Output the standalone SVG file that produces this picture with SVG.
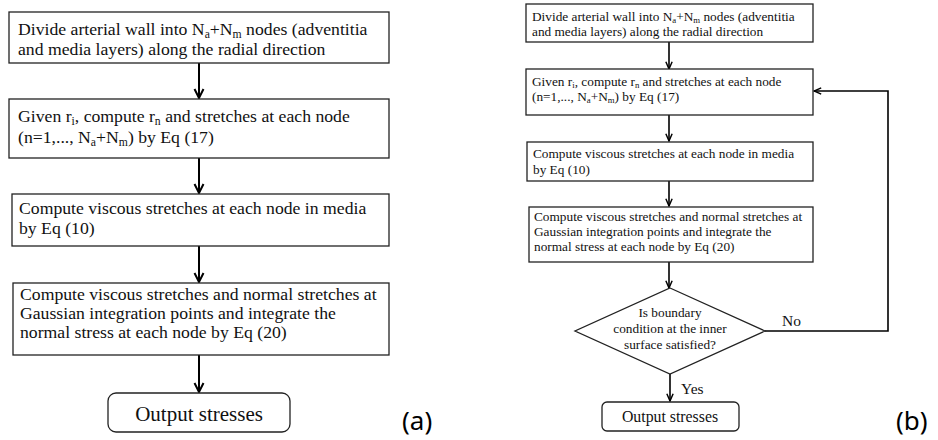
<svg xmlns="http://www.w3.org/2000/svg" width="938" height="440" viewBox="0 0 938 440">
  <style>
    .box { fill: #fff; stroke: #222; stroke-width: 1.3; }
    .wire { fill: none; stroke: #000; stroke-width: 2; }
    .wire-b { fill: none; stroke: #000; stroke-width: 1.6; }
    .ta { font-size: 17.7px; fill: #111; }
    .ta-big { font-size: 21px; fill: #111; }
    .tb { font-size: 13.3px; fill: #111; }
    .tlab { font-size: 15.5px; fill: #111; }
    .sub { font-size: 0.66em; }
    .panel { font-size: 26px; fill: #000; }
  </style>
  <defs>
    <marker id="head" viewBox="0 0 12 12" refX="10" refY="6" markerWidth="12" markerHeight="12" markerUnits="userSpaceOnUse" orient="auto">
      <path d="M1,1.5 L10,6 L1,10.5" fill="none" stroke="#000" stroke-width="2"/>
    </marker>
    <marker id="head-b" viewBox="0 0 10 10" refX="9" refY="5" markerWidth="9" markerHeight="9" markerUnits="userSpaceOnUse" orient="auto">
      <path d="M1,1.5 L9,5 L1,8.5" fill="none" stroke="#000" stroke-width="1.6"/>
    </marker>
  </defs>

  <!-- Panel (a): straight sequence -->
  <g id="connectors-a">
    <line class="wire" x1="199" y1="63" x2="199" y2="98" marker-end="url(#head)"/>
    <line class="wire" x1="199" y1="158" x2="199" y2="193" marker-end="url(#head)"/>
    <line class="wire" x1="199" y1="246" x2="199" y2="282" marker-end="url(#head)"/>
    <line class="wire" x1="199" y1="355" x2="199" y2="392" marker-end="url(#head)"/>
  </g>

  <g font-family="Liberation Serif, Times New Roman, DejaVu Serif, serif">
    <g id="a-divide">
      <rect class="box" x="9" y="12" width="380" height="51"/>
      <text class="ta" x="18" y="35">Divide arterial wall into N<tspan class="sub" dy="2.5">a</tspan><tspan dy="-2.5">+N</tspan><tspan class="sub" dy="2.5">m</tspan><tspan dy="-2.5"> nodes (adventitia</tspan></text>
      <text class="ta" x="18" y="55">and media layers) along the radial direction</text>
    </g>

    <g id="a-given">
      <rect class="box" x="9" y="99" width="380" height="59"/>
      <text class="ta" x="18" y="122">Given r<tspan class="sub" dy="2.5">i</tspan><tspan dy="-2.5">, compute r</tspan><tspan class="sub" dy="2.5">n</tspan><tspan dy="-2.5"> and stretches at each node</tspan></text>
      <text class="ta" x="18" y="143">(n=1,..., N<tspan class="sub" dy="2.5">a</tspan><tspan dy="-2.5">+N</tspan><tspan class="sub" dy="2.5">m</tspan><tspan dy="-2.5">) by Eq (17)</tspan></text>
    </g>

    <g id="a-viscous">
      <rect class="box" x="12" y="194" width="377" height="52"/>
      <text class="ta" x="19" y="214">Compute viscous stretches at each node in media</text>
      <text class="ta" x="19" y="234">by Eq (10)</text>
    </g>

    <g id="a-integrate">
      <rect class="box" x="13" y="283" width="376" height="72"/>
      <text class="ta" x="20" y="300">Compute viscous stretches and normal stretches at</text>
      <text class="ta" x="20" y="319">Gaussian integration points and integrate the</text>
      <text class="ta" x="20" y="338">normal stress at each node by Eq (20)</text>
    </g>

    <g id="a-output">
      <rect class="box" x="108" y="393" width="182" height="39" rx="8" ry="8"/>
      <text class="ta-big" x="199" y="421" text-anchor="middle">Output stresses</text>
    </g>

    <!-- Panel (b): iterative loop on the inner boundary condition -->
    <g id="connectors-b">
      <line class="wire-b" x1="669" y1="42" x2="669" y2="69" marker-end="url(#head-b)"/>
      <line class="wire-b" x1="669" y1="115" x2="669" y2="141" marker-end="url(#head-b)"/>
      <line class="wire-b" x1="669" y1="181" x2="669" y2="206" marker-end="url(#head-b)"/>
      <line class="wire-b" x1="669" y1="262" x2="669" y2="288" marker-end="url(#head-b)"/>
      <line class="wire-b" x1="670" y1="374" x2="670" y2="401" marker-end="url(#head-b)"/>
      <polyline class="wire-b" points="765,331 888,331 888,91 814,91" marker-end="url(#head-b)"/>
      <text class="tlab" x="681" y="394">Yes</text>
      <text class="tlab" x="782" y="326">No</text>
    </g>

    <g id="b-divide">
      <rect class="box" x="526" y="4" width="287" height="38"/>
      <text class="tb" x="532" y="21">Divide arterial wall into N<tspan class="sub" dy="2">a</tspan><tspan dy="-2">+N</tspan><tspan class="sub" dy="2">m</tspan><tspan dy="-2"> nodes (adventitia</tspan></text>
      <text class="tb" x="532" y="36">and media layers) along the radial direction</text>
    </g>

    <g id="b-given">
      <rect class="box" x="526" y="69" width="287" height="46"/>
      <text class="tb" x="532" y="86">Given r<tspan class="sub" dy="2">i</tspan><tspan dy="-2">, compute r</tspan><tspan class="sub" dy="2">n</tspan><tspan dy="-2"> and stretches at each node</tspan></text>
      <text class="tb" x="532" y="101">(n=1,..., N<tspan class="sub" dy="2">a</tspan><tspan dy="-2">+N</tspan><tspan class="sub" dy="2">m</tspan><tspan dy="-2">) by Eq (17)</tspan></text>
    </g>

    <g id="b-viscous">
      <rect class="box" x="527" y="142" width="286" height="39"/>
      <text class="tb" x="533" y="158">Compute viscous stretches at each node in media</text>
      <text class="tb" x="533" y="174">by Eq (10)</text>
    </g>

    <g id="b-integrate">
      <rect class="box" x="529" y="207" width="284" height="55"/>
      <text class="tb" x="534" y="221">Compute viscous stretches and normal stretches at</text>
      <text class="tb" x="534" y="236">Gaussian integration points and integrate the</text>
      <text class="tb" x="534" y="251">normal stress at each node by Eq (20)</text>
    </g>

    <g id="b-check">
      <polygon class="box" points="670,288 765,331 670,374 575,331"/>
      <text class="tb" x="670" y="317" text-anchor="middle">Is boundary</text>
      <text class="tb" x="670" y="333" text-anchor="middle">condition at the inner</text>
      <text class="tb" x="670" y="349" text-anchor="middle">surface satisfied?</text>
    </g>

    <g id="b-output">
      <rect class="box" x="602" y="402" width="137" height="29" rx="5" ry="5"/>
      <text class="tlab" x="670" y="422" text-anchor="middle" style="font-size:15.8px">Output stresses</text>
    </g>
  </g>

  <g font-family="Noto Sans, Open Sans, sans-serif">
    <text class="panel" x="402" y="430">(a)</text>
    <text class="panel" x="896" y="430">(b)</text>
  </g>
</svg>
